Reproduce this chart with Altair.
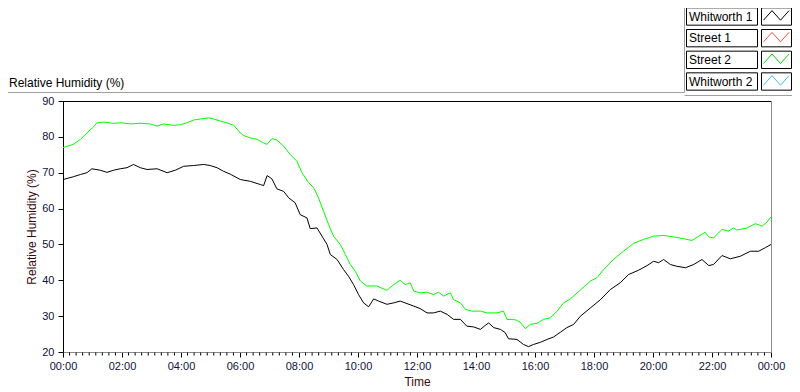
import altair as alt
import pandas as pd
import numpy as np

# ---------------- data ----------------
w1_hours = [0.0, 0.36, 0.59, 0.81, 0.98, 1.26, 1.49, 1.72, 1.94, 2.17, 2.39, 2.62, 2.85, 3.19,
            3.53, 3.81, 4.09, 4.43, 4.77, 4.99, 5.22, 5.44, 5.67, 6.01, 6.35, 6.69, 6.8, 6.92,
            7.08, 7.25, 7.48, 7.65, 7.87, 8.04, 8.27, 8.38, 8.61, 8.78, 8.95, 9.06, 9.29, 9.51,
            9.68, 9.85, 10.02, 10.19, 10.36, 10.53, 10.7, 10.98, 11.21, 11.43, 11.66, 11.89,
            12.11, 12.34, 12.56, 12.79, 13.02, 13.24, 13.47, 13.69, 13.92, 14.15, 14.31, 14.43,
            14.6, 14.83, 14.99, 15.1, 15.39, 15.61, 15.78, 15.95, 16.18, 16.41, 16.63, 16.86,
            17.08, 17.31, 17.54, 17.88, 18.22, 18.55, 18.89, 19.17, 19.51, 19.8, 20.02, 20.19,
            20.36, 20.59, 20.81, 21.1, 21.38, 21.66, 21.89, 22.05, 22.34, 22.62, 22.96, 23.3,
            23.58, 23.81, 24.0]
w1_rh = [68.1, 68.9, 69.5, 70.0, 71.1, 70.7, 70.1, 70.7, 71.1, 71.4, 72.3, 71.4, 70.9, 71.1,
         70.0, 70.7, 71.8, 72.0, 72.3, 72.0, 71.4, 70.4, 69.6, 68.1, 67.6, 66.7, 66.4, 69.2,
         68.3, 65.5, 64.8, 63.0, 61.6, 58.3, 57.4, 54.4, 54.6, 52.3, 50.0, 47.2, 45.8, 43.0,
         41.1, 38.8, 36.0, 33.7, 32.6, 34.8, 34.2, 33.3, 33.7, 34.2, 33.5, 32.8,
         32.1, 30.9, 30.9, 31.4, 30.5, 29.1, 29.1, 27.2, 27.0, 26.3, 27.4, 28.1,
         26.8, 26.3, 25.4, 23.7, 23.5, 22.1, 21.5, 22.1, 22.7, 23.5, 24.2, 25.5,
         26.8, 27.7, 30.0, 32.3, 34.6, 37.4, 39.3, 41.6, 42.8, 44.1, 45.3, 44.9,
         45.8, 44.4, 43.9, 43.5, 44.4, 45.8, 44.1, 44.4, 46.9, 46.0, 46.7, 48.1,
         48.1, 49.1, 50.0]

s2_hours = [0.0, 0.35, 0.59, 0.81, 1.04, 1.15, 1.38, 1.7, 2.0, 2.3, 2.6, 2.96, 3.19, 3.41,
            3.75, 3.98, 4.2, 4.43, 4.66, 4.94, 5.1, 5.34, 5.56, 5.79, 6.01, 6.12, 6.35, 6.58,
            6.8, 6.92, 7.08, 7.25, 7.48, 7.7, 7.93, 8.1, 8.33, 8.5, 8.66, 8.83, 9.0, 9.17,
            9.4, 9.57, 9.74, 9.91, 10.08, 10.3, 10.64, 10.98, 11.21, 11.43, 11.6, 11.77,
            11.89, 12.11, 12.34, 12.56, 12.73, 12.9, 13.13, 13.24, 13.47, 13.64, 13.86, 14.15,
            14.37, 14.71, 14.93, 15.05, 15.33, 15.5, 15.67, 15.84, 16.07, 16.29, 16.52, 16.75,
            16.97, 17.2, 17.54, 17.88, 18.1, 18.33, 18.66, 19.0, 19.34, 19.68, 20.02, 20.36,
            20.7, 21.04, 21.32, 21.55, 21.77, 21.89, 22.05, 22.34, 22.56, 22.73, 22.85, 23.19,
            23.47, 23.7, 23.86, 24.0]
s2_rh = [77.0, 77.9, 79.3, 81.1, 82.8, 83.9, 84.1, 83.8, 83.9, 83.6, 83.8, 83.6, 83.0, 83.6,
         83.2, 83.4, 83.9, 84.7, 85.0, 85.3, 85.0, 84.4, 83.9, 83.2, 81.1, 80.4, 79.7, 79.3,
         78.3, 77.9, 79.5, 79.1, 77.4, 75.1, 73.2, 70.0, 67.2, 65.8, 63.0, 59.3, 55.6, 52.3,
         50.0, 47.2, 44.4, 42.5, 39.8, 38.4, 38.4, 37.2, 38.8, 40.0, 38.8, 39.3,
         37.0, 36.5, 36.7, 36.0, 36.7, 35.6, 36.5, 34.6, 33.7, 31.9, 31.4, 31.4,
         30.9, 30.9, 31.4, 29.1, 29.0, 28.3, 26.5, 27.7, 28.0, 29.1, 29.5, 31.4,
         33.7, 34.8, 37.3, 39.8, 40.7, 43.0, 45.8, 48.1, 50.3, 51.4, 52.3, 52.5,
         52.1, 51.6, 51.1, 52.3, 53.4, 52.1, 51.8, 54.2, 53.7, 54.6, 54.0, 54.6,
         55.8, 55.1, 56.2, 57.7]

legend_names = ["Whitworth 1", "Street 1", "Street 2", "Whitworth 2"]
legend_colors = ["#000000", "#FF4D4D", "#00E000", "#3DBBFF"]
plotted_names = ["Whitworth 1", "Street 2"]
plotted_colors = ["#000000", "#00FF00"]

x_major = list(range(0, 25, 2))
y_major = list(range(20, 91, 10))
x_title = "Time"
y_title = "Relative Humidity (%)"

# ---------------- layout / style ----------------
FONT = "Liberation Sans"
W, H = 708, 251
LABEL_COLOR = "#10103a"
TITLE_COLOR = "#3a0808"
LX = -6  # legend shift so that it fits in the page

df = pd.concat([
    pd.DataFrame({"series": plotted_names[0], "hour": w1_hours, "rh": w1_rh}),
    pd.DataFrame({"series": plotted_names[1], "hour": s2_hours, "rh": s2_rh}),
], ignore_index=True)

minor_step = 2.0 / 9.0
minor = [h for h in np.arange(0, 24 + 1e-6, minor_step) if abs(h / 2 - round(h / 2)) > 1e-6]
minor_df = pd.DataFrame({"hour": minor})

xscale = alt.Scale(domain=[0, 24], nice=False, zero=False)
yscale = alt.Scale(domain=[20, 90], nice=False, zero=False)

label_expr = "(datum.value % 24 < 10 ? '0' : '') + (datum.value % 24) + ':00'"
x_axis = alt.Axis(values=x_major, labelExpr=label_expr, title=x_title, grid=False,
                  domainColor="#8a8a8a", tickColor="#000000", tickSize=5,
                  labelFont=FONT, labelFontSize=11, labelColor=LABEL_COLOR, labelPadding=3,
                  titleFont=FONT, titleFontSize=12, titleFontWeight="normal",
                  titleColor=TITLE_COLOR, titleBaseline="top", titleY=24,
                  labelFlush=False, labelOverlap=False)
y_axis = alt.Axis(values=y_major, title=y_title, grid=False,
                  domainColor="#000000", tickColor="#000000", tickSize=5,
                  labelFont=FONT, labelFontSize=11, labelColor=LABEL_COLOR, labelPadding=4,
                  titleFont=FONT, titleFontSize=12, titleFontWeight="normal",
                  titleColor=TITLE_COLOR, titleX=-25, titleY=H / 2)

lines = alt.Chart(df).mark_line(strokeWidth=1).encode(
    x=alt.X("hour:Q", scale=xscale, axis=x_axis),
    y=alt.Y("rh:Q", scale=yscale, axis=y_axis),
    color=alt.Color("series:N", scale=alt.Scale(domain=plotted_names, range=plotted_colors),
                    legend=None),
)

minor_ticks = alt.Chart(minor_df).mark_rule(color="#000000", strokeWidth=1).encode(
    x=alt.X("hour:Q", scale=xscale, axis=x_axis),
    y=alt.value(H + 0.5),
    y2=alt.value(H + 3.5),
)

one = pd.DataFrame({"k": [0]})
top_border = alt.Chart(one).mark_rule(color="#000000").encode(
    x=alt.value(0), x2=alt.value(W), y=alt.value(0.5))
right_border = alt.Chart(one).mark_rule(color="#8a8a8a").encode(
    x=alt.value(W + 0.5), y=alt.value(0), y2=alt.value(H))

main = alt.layer(lines, minor_ticks, top_border, right_border)

# ---------------- legend ----------------
legend_df = pd.DataFrame({"name": legend_names, "i": list(range(len(legend_names)))})
ls = alt.Scale(domain=[0, 3], range=[-84.5, -19.5])

label_boxes = alt.Chart(legend_df).transform_calculate(
    top="datum.i - 0.4", bot="datum.i + 0.4"
).mark_rect(fill="white", stroke="#000000", strokeWidth=1).encode(
    x=alt.value(629.5 + LX), x2=alt.value(700.5 + LX),
    y=alt.Y("top:Q", scale=ls, axis=None), y2="bot:Q",
)
icon_boxes = alt.Chart(legend_df).transform_calculate(
    top="datum.i - 0.4", bot="datum.i + 0.4"
).mark_rect(fill="white", stroke="#000000", strokeWidth=1).encode(
    x=alt.value(704.5 + LX), x2=alt.value(734.5 + LX),
    y=alt.Y("top:Q", scale=ls, axis=None), y2="bot:Q",
)
label_text = alt.Chart(legend_df).mark_text(
    align="left", baseline="middle", font=FONT, fontSize=12, color="#000000"
).encode(
    x=alt.value(632 + LX),
    y=alt.Y("i:Q", scale=ls, axis=None),
    text="name:N",
)

zig_u = [0, 1, 2, 3]
zig_v = [0.17, -0.27, 0.17, -0.27]
zig_df = pd.DataFrame([
    {"name": n, "i": k, "u": u, "yy": k + v}
    for k, n in enumerate(legend_names) for u, v in zip(zig_u, zig_v)
])
icons = alt.Chart(zig_df).mark_line(strokeWidth=1).encode(
    x=alt.X("u:Q", scale=alt.Scale(domain=[0, 3], range=[706.5 + LX, 732 + LX]), axis=None),
    y=alt.Y("yy:Q", scale=ls, axis=None),
    color=alt.Color("name:N", scale=alt.Scale(domain=legend_names, range=legend_colors),
                    legend=None),
    order="u:Q",
)

# ---------------- frame and panel title ----------------
panel_title = alt.Chart(one).mark_text(
    text=y_title, align="left", baseline="alphabetic", font=FONT, fontSize=12,
    color="#000000"
).encode(x=alt.value(-54), y=alt.value(-14))

frame_top = alt.Chart(one).mark_rule(color="#a0a0a0").encode(
    x=alt.value(-55), x2=alt.value(627.5 + LX), y=alt.value(-8.5))
frame_leg_v = alt.Chart(one).mark_rule(color="#a0a0a0").encode(
    x=alt.value(627.5 + LX), y=alt.value(-101), y2=alt.value(-8.5))
frame_leg_h = alt.Chart(one).mark_rule(color="#a0a0a0").encode(
    x=alt.value(627.5 + LX), x2=alt.value(729), y=alt.value(-5.5))

chart = alt.layer(
    frame_top, frame_leg_v, frame_leg_h, panel_title,
    main, label_boxes, icon_boxes, label_text, icons,
).resolve_scale(
    x="independent", y="independent", color="independent"
).properties(
    width=W, height=H,
    autosize=alt.AutoSizeParams(type="none"),
    padding={"left": 55, "top": 93, "right": 21, "bottom": 40},
    background="white",
).configure_view(stroke=None)

chart.save("out.html", embed_options={"renderer": "svg", "actions": False})
